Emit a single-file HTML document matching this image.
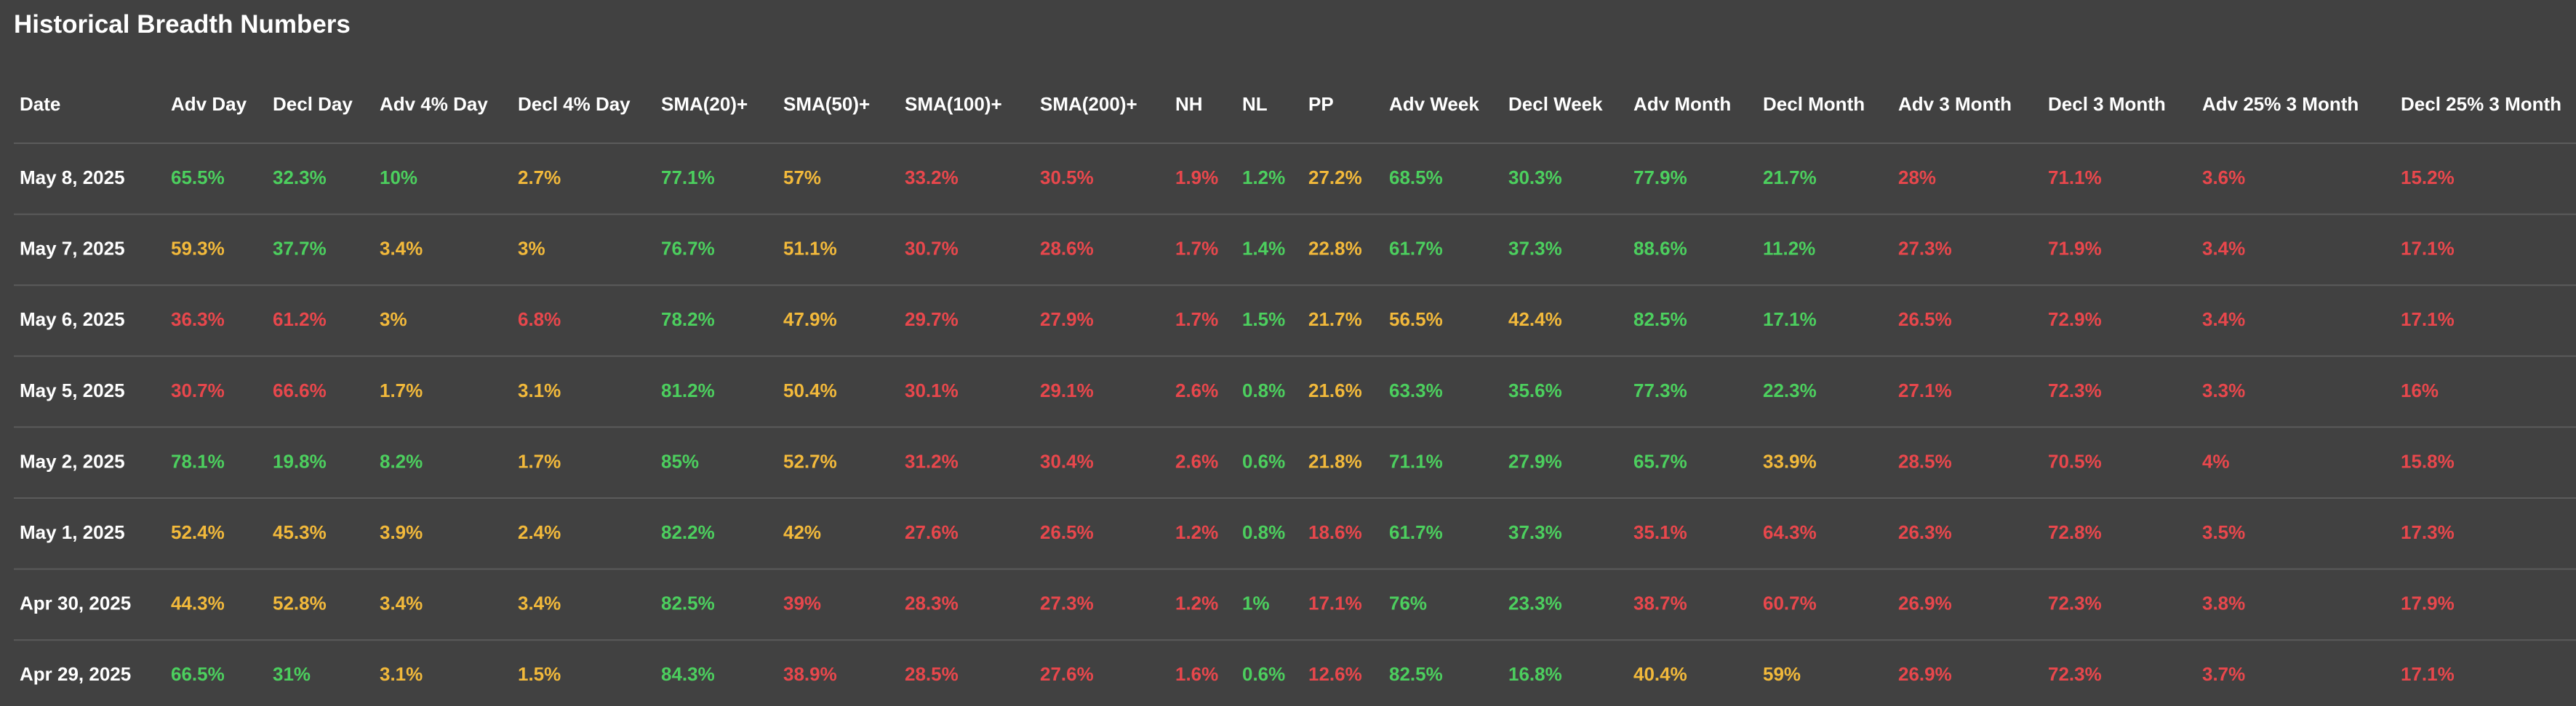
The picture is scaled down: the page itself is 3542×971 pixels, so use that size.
<!DOCTYPE html>
<html><head><meta charset="utf-8"><style>
html,body{margin:0;padding:0;background:#414141;}
svg{display:block;}
text{font-family:"Liberation Sans",sans-serif;font-weight:bold;}
</style></head><body>
<svg id="tbl" width="3542" height="971" viewBox="0 0 3542 971" xmlns="http://www.w3.org/2000/svg">
<rect x="0" y="0" width="3542" height="971" fill="#414141"/>
<text x="19" y="45" font-size="35" fill="#ffffff">Historical Breadth Numbers</text>
</svg>
<script>
const headers = ["Date","Adv Day","Decl Day","Adv 4% Day","Decl 4% Day","SMA(20)+","SMA(50)+","SMA(100)+","SMA(200)+","NH","NL","PP","Adv Week","Decl Week","Adv Month","Decl Month","Adv 3 Month","Decl 3 Month","Adv 25% 3 Month","Decl 25% 3 Month"];
const dates = ["May 8, 2025","May 7, 2025","May 6, 2025","May 5, 2025","May 2, 2025","May 1, 2025","Apr 30, 2025","Apr 29, 2025"];
const values = [
["65.5%","32.3%","10%","2.7%","77.1%","57%","33.2%","30.5%","1.9%","1.2%","27.2%","68.5%","30.3%","77.9%","21.7%","28%","71.1%","3.6%","15.2%"],
["59.3%","37.7%","3.4%","3%","76.7%","51.1%","30.7%","28.6%","1.7%","1.4%","22.8%","61.7%","37.3%","88.6%","11.2%","27.3%","71.9%","3.4%","17.1%"],
["36.3%","61.2%","3%","6.8%","78.2%","47.9%","29.7%","27.9%","1.7%","1.5%","21.7%","56.5%","42.4%","82.5%","17.1%","26.5%","72.9%","3.4%","17.1%"],
["30.7%","66.6%","1.7%","3.1%","81.2%","50.4%","30.1%","29.1%","2.6%","0.8%","21.6%","63.3%","35.6%","77.3%","22.3%","27.1%","72.3%","3.3%","16%"],
["78.1%","19.8%","8.2%","1.7%","85%","52.7%","31.2%","30.4%","2.6%","0.6%","21.8%","71.1%","27.9%","65.7%","33.9%","28.5%","70.5%","4%","15.8%"],
["52.4%","45.3%","3.9%","2.4%","82.2%","42%","27.6%","26.5%","1.2%","0.8%","18.6%","61.7%","37.3%","35.1%","64.3%","26.3%","72.8%","3.5%","17.3%"],
["44.3%","52.8%","3.4%","3.4%","82.5%","39%","28.3%","27.3%","1.2%","1%","17.1%","76%","23.3%","38.7%","60.7%","26.9%","72.3%","3.8%","17.9%"],
["66.5%","31%","3.1%","1.5%","84.3%","38.9%","28.5%","27.6%","1.6%","0.6%","12.6%","82.5%","16.8%","40.4%","59%","26.9%","72.3%","3.7%","17.1%"]
];
const tones = [
"gggygyrrrgyggggrrrr",
"ygyygyrrrgyggggrrrr",
"rryrgyrrrgyyyggrrrr",
"rryygyrrrgyggggrrrr",
"gggygyrrrgygggyrrrr",
"yyyygyrrrgrggrrrrrr",
"yyyygrrrrgrggrrrrrr",
"ggyygrrrrgrggyyrrrr"
];
const colX = [27,235,375,522,712,909,1077,1244,1430,1616,1708,1799,1910,2074,2246,2424,2610,2816,3028,3301];
const palette = {g:"#4ccf5e", y:"#f2b93b", r:"#e8474c"};
const NS = "http://www.w3.org/2000/svg";
const svg = document.getElementById('tbl');
const rowY = i => 253 + 97.6*i;
const lineY = i => 197 + 97.6*i;
function txt(x,y,s,fill,size){
  const t=document.createElementNS(NS,'text');
  t.setAttribute('x',x);t.setAttribute('y',y);t.setAttribute('font-size',size);t.setAttribute('fill',fill);
  t.textContent=s;svg.appendChild(t);return t;
}
headers.forEach((h,c)=>{
  const t=txt(colX[c],152,h,"#ffffff",26);
  
  
});
dates.forEach((d,i)=>{
  const l=document.createElementNS(NS,'line');
  l.setAttribute('x1',19);l.setAttribute('x2',3542);l.setAttribute('y1',lineY(i));l.setAttribute('y2',lineY(i));
  l.setAttribute('stroke','#5b5b5b');l.setAttribute('stroke-width',2);
  
  
  svg.appendChild(l);
  const dt=txt(colX[0],rowY(i),d,"#ffffff",26);
  
  
  values[i].forEach((v,c)=>{
    const tone=tones[i][c];
    const t=txt(colX[c+1],rowY(i),v,palette[tone]||palette.g,26);
    
    
  });
});
</script>
</body></html>
